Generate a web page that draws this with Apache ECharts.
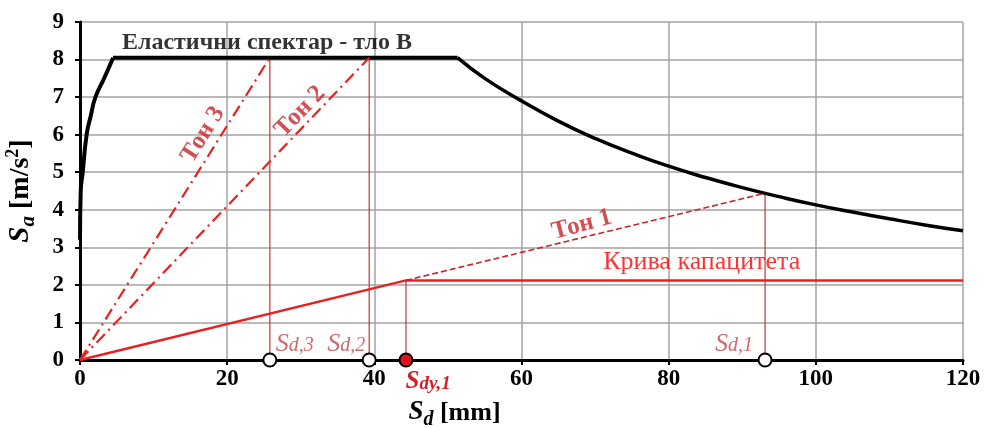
<!DOCTYPE html>
<html><head><meta charset="utf-8">
<script src="https://cdn.jsdelivr.net/npm/echarts@6/dist/echarts.min.js"></script>
<style>html,body{margin:0;padding:0;background:#fff}#c{width:984px;height:428px}</style>
</head><body><div id="c"></div>
<script>
// ---- data ----
const riseSd = [0, 0.1, 0.37, 0.9, 1.45, 2.1, 3.3, 4.5];
const riseSa = [3.2, 4.5, 5.0, 6.0, 6.49, 7.0, 7.51, 8.05];
const plateauSd = [4.5, 51.3];
const plateauSa = [8.05, 8.05];
const fallSd = [51.3, 55, 60, 65, 70, 75, 80, 85, 90, 95, 100, 105, 110, 115, 120];
const fallSa = [8.05, 7.5, 6.9, 6.36, 5.9, 5.51, 5.16, 4.86, 4.59, 4.35, 4.13, 3.94, 3.76, 3.59, 3.44];
const capacitySd = [0, 44.3, 120];
const capacitySa = [0, 2.12, 2.12];
const tone1Sd = [44.3, 93.1];
const tone1Sa = [2.12, 4.44];
const tone2Sd = [0, 39.3];
const tone2Sa = [0, 8.05];
const tone3Sd = [0, 25.8];
const tone3Sa = [0, 8.05];
const demandSd = [25.8, 39.3, 93.1];
const demandSa = [8.05, 8.05, 4.44];
const yieldSd = [44.3];
const yieldSa = [2.12];
const xTicks = [0, 20, 40, 60, 80, 100, 120];
const yTicks = [0, 1, 2, 3, 4, 5, 6, 7, 8, 9];
const texts = {
  spectrum: 'Еластични спектар - тло В',
  capacity: 'Крива капацитета',
  tone1: 'Тон 1', tone2: 'Тон 2', tone3: 'Тон 3'
};

const zip = (a, b) => a.map((v, i) => [v, b[i]]);
const SERIF = 'Liberation Serif';
const RED = '#e5221f';
const DARKRED = '#c9232b';
const LBLRED = '#c4424a';

const chart = echarts.init(document.getElementById('c'), null, {renderer: 'canvas'});

const lineS = (data, color, width, type, extra) => Object.assign({
  type: 'line', data, symbol: 'none', showSymbol: false, silent: true,
  lineStyle: {color, width, type}, animation: false
}, extra || {});

const verticals = demandSd.concat(yieldSd).map((x, i) => lineS(
  [[x, 0], [x, demandSa.concat(yieldSa)[i]]], '#c8303a', 1.2, 'solid', {z: 3}));

const textPoint = (pt, label) => ({
  type: 'scatter', data: [pt], symbolSize: 0, silent: true, z: 10, clip: false,
  label: Object.assign({show: true}, label), animation: false
});

const subRich = (color, bold, big, small) => ({
  s: {fontFamily: SERIF, fontStyle: 'italic', fontWeight: bold ? 'bold' : 'normal', fontSize: big, color, lineHeight: big + 2, verticalAlign: 'bottom'},
  b: {fontFamily: SERIF, fontStyle: 'italic', fontWeight: bold ? 'bold' : 'normal', fontSize: small, color, lineHeight: small + 2, verticalAlign: 'bottom', padding: [0, 0, 1, 0]}
});

const nameRich = (k) => ({
  s: {fontFamily: SERIF, fontStyle: 'italic', fontWeight: 'bold', fontSize: Math.round(26 * k), color: '#000', lineHeight: Math.round(28 * k), verticalAlign: 'bottom'},
  b: {fontFamily: SERIF, fontStyle: 'italic', fontWeight: 'bold', fontSize: Math.round(19 * k), color: '#000', lineHeight: Math.round(20 * k), verticalAlign: 'bottom', padding: [0, 0, -4, 0]},
  t: {fontFamily: SERIF, fontWeight: 'bold', fontSize: Math.round(25 * k), color: '#000', lineHeight: Math.round(28 * k), verticalAlign: 'bottom'},
  p: {fontFamily: SERIF, fontWeight: 'bold', fontSize: Math.round(16 * k), color: '#000', lineHeight: Math.round(28 * k), verticalAlign: 'top'}
});

const option = {
  animation: false,
  grid: {left: 80, right: 21, top: 22, bottom: 68, containLabel: false, outerBoundsMode: 'none'},
  xAxis: {
    type: 'value', min: 0, max: 120, interval: 20,
    name: '{s|S}{b|d}{t| [mm]}', nameLocation: 'middle', nameGap: 37,
    nameTextStyle: {padding: [0, 134, 0, 0], rich: nameRich(1.04)},
    axisLine: {show: true, onZero: false, lineStyle: {color: '#000', width: 3}},
    axisTick: {show: true, length: 5, lineStyle: {color: '#000', width: 2}},
    axisLabel: {fontFamily: SERIF, fontWeight: 'bold', fontSize: 23, color: '#000', margin: 8,
      formatter: v => xTicks.includes(v) ? String(v) : ''},
    splitLine: {show: true, lineStyle: {color: '#a3a3a3', width: 1.5}}
  },
  yAxis: {
    type: 'value', min: 0, max: 9, interval: 1,
    name: '{s|S}{b|a}{t| [m/s}{p|2}{t|]}', nameLocation: 'middle', nameGap: 45, nameRotate: 90,
    nameTextStyle: {rich: nameRich(1.12)},
    axisLine: {show: true, onZero: false, lineStyle: {color: '#000', width: 3}},
    axisTick: {show: true, length: 5, lineStyle: {color: '#000', width: 2}},
    axisLabel: {fontFamily: SERIF, fontWeight: 'bold', fontSize: 23, color: '#000', margin: 16,
      formatter: v => yTicks.includes(v) ? String(v) : ''},
    splitLine: {show: true, lineStyle: {color: '#a3a3a3', width: 1.5}}
  },
  series: [
    ...verticals,
    lineS(zip(riseSd, riseSa), '#000', 4, 'solid', {smooth: 0.5, z: 5}),
    lineS(zip(plateauSd, plateauSa), '#000', 4, 'solid', {z: 5}),
    lineS(zip(fallSd, fallSa), '#000', 3.5, 'solid', {smooth: true, z: 5}),
    lineS(zip(capacitySd, capacitySa), RED, 2.5, 'solid', {z: 6}),
    lineS(zip(tone1Sd, tone1Sa), DARKRED, 1.6, [6, 3], {z: 6}),
    lineS(zip(tone2Sd, tone2Sa), RED, 2.2, [12, 5, 2, 5], {z: 6}),
    lineS(zip(tone3Sd, tone3Sa), RED, 2.2, [12, 5, 2, 5], {z: 6}),
    {
      type: 'scatter', z: 12, silent: true, animation: false, clip: false,
      data: demandSd.map(x => [x, 0]), symbol: 'circle', symbolSize: 13,
      itemStyle: {color: '#fff', borderColor: '#000', borderWidth: 2, opacity: 1}
    },
    {
      type: 'scatter', z: 12, silent: true, animation: false, clip: false,
      data: yieldSd.map(x => [x, 0]), symbol: 'circle', symbolSize: 13,
      itemStyle: {color: '#e3111b', borderColor: '#000', borderWidth: 2, opacity: 1},
      label: {show: true, position: [7, 15], formatter: '{s|S}{b|dy,1}', rich: subRich('#d1202a', true, 25, 19)}
    },
    textPoint([5.7, 8.45], {position: 'right', distance: 0, formatter: texts.spectrum,
      fontFamily: SERIF, fontWeight: 'bold', fontSize: 24, color: '#000'}),
    textPoint([71.1, 2.6], {position: 'right', distance: 0, formatter: texts.capacity,
      fontFamily: SERIF, fontSize: 26, color: '#ff0000'}),
    textPoint([68.2, 3.6], {position: 'inside', rotate: 15, formatter: texts.tone1,
      fontFamily: SERIF, fontWeight: 'bold', fontSize: 25, color: DARKRED}),
    textPoint([29.9, 6.61], {position: 'inside', rotate: 46, formatter: texts.tone2,
      fontFamily: SERIF, fontWeight: 'bold', fontSize: 25, color: DARKRED}),
    textPoint([16.7, 6.0], {position: 'inside', rotate: 58, formatter: texts.tone3,
      fontFamily: SERIF, fontWeight: 'bold', fontSize: 25, color: DARKRED}),
    textPoint([demandSd[0], 0.45], {position: 'right', distance: 6, formatter: '{s|S}{b|d,3}', rich: subRich(LBLRED, false, 26, 20)}),
    textPoint([demandSd[1], 0.45], {position: 'left', distance: 4, formatter: '{s|S}{b|d,2}', rich: subRich(LBLRED, false, 26, 20)}),
    textPoint([demandSd[2], 0.45], {position: 'left', distance: 12, formatter: '{s|S}{b|d,1}', rich: subRich(LBLRED, false, 26, 20)})
  ]
};
chart.setOption(option);
</script></body></html>
